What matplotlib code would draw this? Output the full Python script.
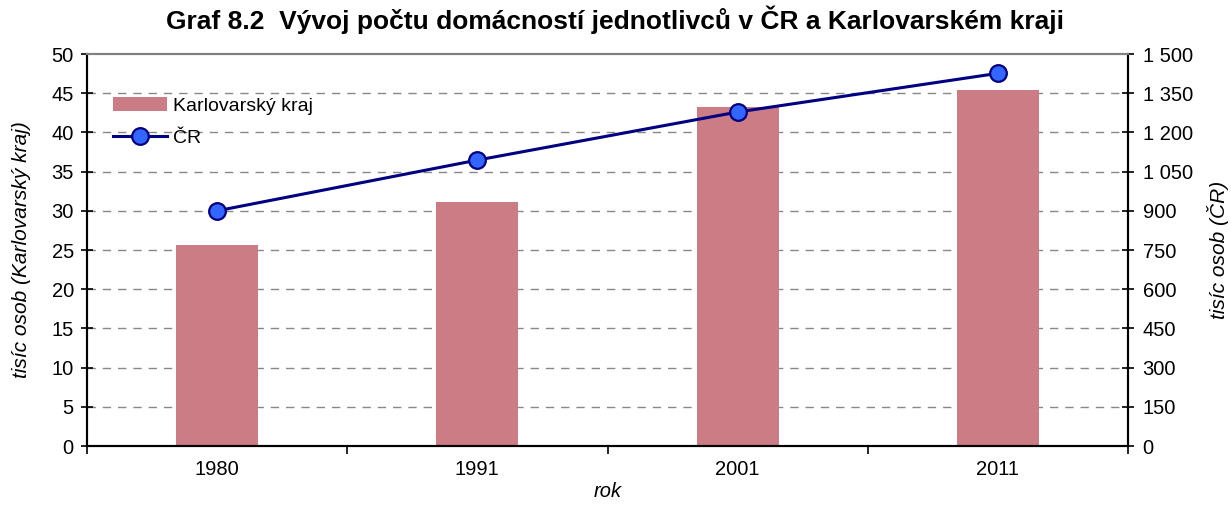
import matplotlib.pyplot as plt
import numpy as np

plt.rcParams['font.family'] = ['Liberation Sans', 'DejaVu Sans']

# data
years = ['1980', '1991', '2001', '2011']
karlovarsky = [25.6, 31.1, 43.2, 45.4]      # tisic osob, left axis
cr = [900, 1094, 1278, 1426]                 # tisic osob, right axis

x = np.arange(len(years))

fig = plt.figure(figsize=(12.31, 5.05), dpi=100)
ax = fig.add_axes([87 / 1231, 1 - 446 / 505, (1128 - 87) / 1231, (446 - 54) / 505])
ax2 = ax.twinx()

bars = ax.bar(x, karlovarsky, width=0.315, color='#CB7C84', label='Karlovarský kraj', zorder=2)
line, = ax2.plot(x, cr, color='#000080', lw=2.2, marker='o', ms=12,
                 mfc='#3366FF', mec='#000080', mew=1.6, label='ČR', zorder=3)

ax.set_xlim(-0.5, 3.5)
ax.set_ylim(0, 50)
ax2.set_ylim(0, 1500)
ax.set_yticks(np.arange(0, 51, 5))
ax2.set_yticks(np.arange(0, 1501, 150))
ax2.set_yticklabels([f'{v:,}'.replace(',', ' ') for v in range(0, 1501, 150)])

ax.set_xticks(x)
ax.set_xticklabels(years)
ax.set_xticks(np.arange(-0.5, 3.6, 1), minor=True)
ax.tick_params(axis='x', which='major', length=0, pad=10, labelsize=14.5)
ax.tick_params(axis='x', which='minor', length=6, width=1.2, color='black')
ax.tick_params(axis='y', direction='inout', length=9, width=1.2, labelsize=14.5, pad=5)
ax2.tick_params(axis='y', direction='inout', length=9, width=1.2, labelsize=14.5, pad=6)

for v in range(5, 50, 5):
    ax.axhline(v, color='#888888', lw=1, ls=(0, (6, 5)), zorder=1)

for a in (ax, ax2):
    a.spines['top'].set_color('#808080')
    a.spines['top'].set_linewidth(1.5)
    a.spines['left'].set_linewidth(1.5)
    a.spines['right'].set_linewidth(1.5)
    a.spines['bottom'].set_linewidth(1.5)

ax.set_xlabel('rok', style='italic', fontsize=14.5, labelpad=2)
ax.set_ylabel('tisíc osob (Karlovarský kraj)', style='italic', fontsize=15, labelpad=15)
ax2.set_ylabel('tisíc osob (ČR)', style='italic', fontsize=15, labelpad=10)

ax.legend([bars, line], ['Karlovarský kraj', 'ČR'], loc='upper left',
          bbox_to_anchor=(0.008, 0.934), frameon=False, fontsize=14,
          handlelength=2.8, handleheight=0.7, handletextpad=0.3, labelspacing=0.75)

fig.suptitle('Graf 8.2  Vývoj počtu domácností jednotlivců v ČR a Karlovarském kraji',
             fontsize=19, fontweight='bold', y=0.99)

fig.savefig('out.png', dpi=100)
